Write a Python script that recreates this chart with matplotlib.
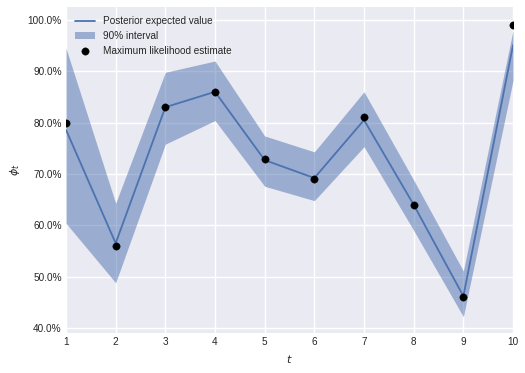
import matplotlib
matplotlib.use("Agg")
import matplotlib.pyplot as plt
import matplotlib.ticker as mticker
import numpy as np

plt.style.use("seaborn-v0_8")
plt.rcParams["font.family"] = ["Liberation Sans", "DejaVu Sans"]
plt.rcParams["mathtext.fontset"] = "dejavusans"

# time steps
t = [1, 2, 3, 4, 5, 6, 7, 8, 9, 10]
# maximum likelihood estimates
mle = [0.80, 0.56, 0.83, 0.86, 0.73, 0.69, 0.81, 0.64, 0.46, 0.99]
# posterior expected value
post_mean = [0.786, 0.565, 0.830, 0.860, 0.727, 0.692, 0.805, 0.640, 0.462, 0.951]
# 90% interval
lower = [0.604, 0.488, 0.758, 0.804, 0.676, 0.648, 0.753, 0.590, 0.422, 0.882]
upper = [0.945, 0.643, 0.898, 0.920, 0.774, 0.743, 0.860, 0.688, 0.511, 0.980]

blue = "#4C72B0"

fig = plt.figure(figsize=(5.25, 3.73), dpi=100)
ax = fig.add_axes([0.1257, 0.107, 0.8515, 0.874])

ax.plot(t, post_mean, color=blue, lw=1.3, label="Posterior expected value")
ax.fill_between(t, lower, upper, color=blue, alpha=0.5, lw=0, label="90% interval")
ax.scatter(t, mle, color="black", s=28, zorder=3, label="Maximum likelihood estimate")

ax.set_xlim(1, 10)
ax.set_ylim(0.39, 1.025)
ax.set_xticks(t)
ax.set_yticks([0.4, 0.5, 0.6, 0.7, 0.8, 0.9, 1.0])
ax.yaxis.set_major_formatter(mticker.PercentFormatter(1.0, decimals=1))
ax.tick_params(labelsize=7.2, pad=3)

ax.set_xlabel("$t$", fontsize=8)
ax.set_ylabel(r"$\phi_t$", fontsize=8)

ax.legend(loc="upper left", fontsize=7.2, frameon=False)

fig.savefig("out.png", dpi=100)
